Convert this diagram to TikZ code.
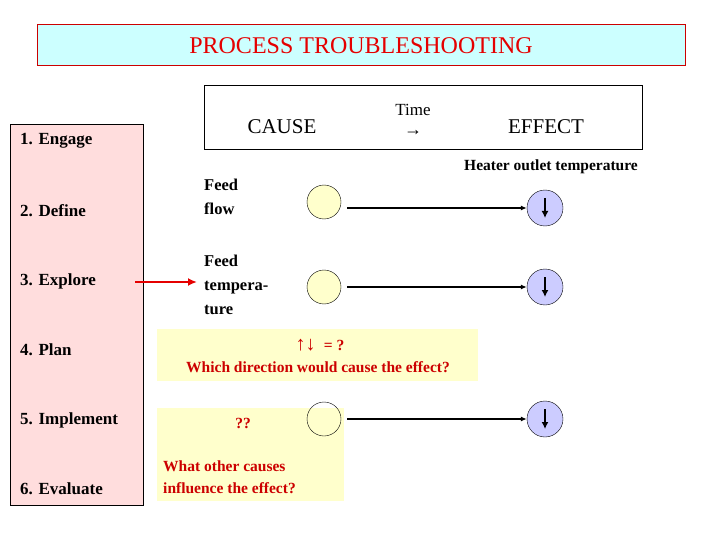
\documentclass[tikz,border=0pt]{standalone}
\usepackage{fontspec}
\setmainfont{Liberation Serif}
\usetikzlibrary{arrows.meta}
\definecolor{ttl}{HTML}{CCFFFF}
\definecolor{pinkf}{HTML}{FFDDDD}
\definecolor{yel}{HTML}{FFFFCC}
\definecolor{blu}{HTML}{CCCCFF}
\definecolor{dred}{HTML}{CC0000}
\tikzset{
 lbl/.style={font=\bfseries\fontsize{17}{19}\selectfont,anchor=west,inner sep=0},
 ctxt/.style={font=\bfseries\fontsize{16.5}{24}\selectfont,align=left,anchor=west,inner sep=0},
 rtxt/.style={font=\bfseries\fontsize{15.5}{22}\selectfont,text=dred,inner sep=0},
 cause/.style={circle,draw,fill=yel,minimum size=34pt,inner sep=0},
 eff/.style={circle,draw,fill=blu,minimum size=36pt,inner sep=0},
 conn/.style={draw,line width=1.2pt,-{Latex[length=6pt,width=5pt]}},
 dn/.style={draw,line width=1.4pt,-{Latex[length=7pt,width=7pt]}},
}
\begin{document}
\begin{tikzpicture}[x=1pt,y=-1pt]
\useasboundingbox (0,0) rectangle (720,540);
\fill[white] (0,0) rectangle (720,540);
\draw[red!80!black,fill=ttl] (37,24) rectangle (685,65);
\node[text=red!90!black,font=\fontsize{24}{26}\selectfont] (title) at (361,46) {PROCESS TROUBLESHOOTING};
\draw[fill=pinkf] (10,124) rectangle (143,505);
\node[lbl] (s1) at (20,141) {1. Engage};
\node[lbl] (s2) at (20,211) {2. Define};
\node[lbl] (s3) at (20,281) {3. Explore};
\node[lbl] (s4) at (20,350) {4. Plan};
\node[lbl] (s5) at (20,420) {5. Implement};
\node[lbl] (s6) at (20,489) {6. Evaluate};
\coordinate (ra) at (135,282);
\coordinate (rb) at (197,282);
\draw[red!90!black,line width=2pt,-{Latex[length=9pt,width=8pt]}] (ra) -- (rb);
\draw (204,85) rectangle (642,149);
\node[font=\fontsize{21}{22}\selectfont] (cause) at (282,127) {CAUSE};
\node[font=\fontsize{17}{18}\selectfont] (time) at (413,110) {Time};
\node[font=\bfseries\fontsize{18}{18}\selectfont] (tarr) at (413,133) {→};
\node[font=\fontsize{21}{22}\selectfont] (effect) at (546,127) {EFFECT};
\node[font=\bfseries\fontsize{15.5}{18}\selectfont] (heater) at (551,167) {Heater outlet temperature};
\node[ctxt] (t1) at (204,197) {Feed\\flow};
\node[ctxt] (t2) at (204,285) {Feed\\tempera-\\ture};
\fill[yel] (157,329) rectangle (478,381);
\fill[yel] (157,408) rectangle (344,501);
\node[rtxt] (q1) at (320,345) {\fontsize{20}{20}\selectfont↑↓\fontsize{15.5}{22}\selectfont\; = ?};
\node[rtxt] (q2) at (318,367) {Which direction would cause the effect?};
\node[rtxt] (q3) at (243,423) {??};
\node[rtxt,align=left,anchor=west] (q4) at (163,477) {What other causes\\influence the effect?};
\node[cause] (c1) at (324,202) {};
\node[cause] (c2) at (324,287) {};
\node[cause,fill=none] (c3) at (324,419) {};
\node[eff] (e1) at (545,208) {};
\node[eff] (e2) at (545,287) {};
\node[eff] (e3) at (545,419) {};
\foreach \e in {e1,e2,e3}{\draw[dn] ([yshift=10pt]\e.center) -- ([yshift=-10pt]\e.center);}
\draw[conn] ([xshift=6pt]c1.east|-e1) -- (e1.west);
\draw[conn] ([xshift=6pt]c2.east) -- (e2.west);
\draw[conn] ([xshift=6pt]c3.east) -- (e3.west);
\end{tikzpicture}
\end{document}
